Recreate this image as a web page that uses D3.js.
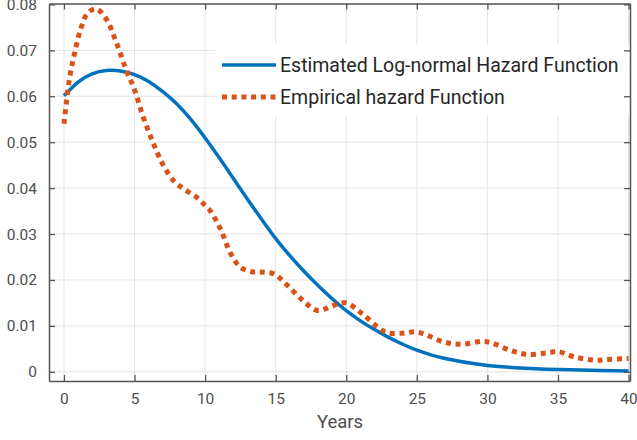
<html>
<head>
<meta charset="utf8">
<style>
body { margin: 0; background: #fff; }
text { font-family: Roboto, "Liberation Sans", sans-serif; }
</style>
</head>
<body>
<div id="canvas"></div>
<script src="https://cdn.jsdelivr.net/npm/d3@7"></script>
<script>

// log-normal fit (blue)
const fitYears = [0, 1, 2, 3, 4, 5, 6, 7, 8, 9, 10, 11, 12, 13, 14, 15, 16, 17, 18, 19, 20,
    21, 22, 23, 24, 25, 26, 27, 28, 29, 30, 32, 35, 38, 40];
const fitHazard = [0.0601, 0.0631, 0.0649, 0.0656, 0.0655, 0.0647, 0.0632, 0.0610, 0.0583, 0.0549, 0.0509,
    0.0466, 0.0421, 0.0376, 0.0332, 0.0290, 0.0253, 0.0219, 0.0188, 0.0159, 0.0133,
    0.0111, 0.0092, 0.0075, 0.0060, 0.0047, 0.0037, 0.0029, 0.0023, 0.0018, 0.0014, 0.0009, 0.0005, 0.0003, 0.0002];

// empirical hazard (orange, dotted)
const empYears = [0, 0.4, 0.8, 1.2, 1.7, 2.3, 3.0, 3.7, 4.4, 5.0, 5.6, 6.3, 7.0, 7.8, 8.5, 9.4, 10.0, 10.4,
    11.1, 11.8, 12.5, 13.3, 14.1, 14.9, 15.8, 16.9, 17.9, 18.6, 19.3, 20.0, 21.1, 22.2, 22.9, 24.0,
    24.9, 25.7, 26.9, 28.2, 29.6, 30.3, 31.6, 32.8, 34.2, 35.0, 36.1, 37.7, 38.5, 40.0];
const empHazard = [0.0540, 0.0640, 0.0700, 0.0748, 0.0782, 0.0790, 0.0768, 0.0718, 0.0658, 0.0614, 0.0556, 0.0500, 0.0452, 0.0415, 0.0398, 0.0380, 0.0362, 0.0349,
    0.0310, 0.0258, 0.0228, 0.0218, 0.0217, 0.0213, 0.0189, 0.0156, 0.0134, 0.0138, 0.0147, 0.0150, 0.0127, 0.0098, 0.0085, 0.0084,
    0.0087, 0.0080, 0.0065, 0.0060, 0.0066, 0.0063, 0.0047, 0.0038, 0.0041, 0.0044, 0.0033, 0.0025, 0.0027, 0.0029];

const xTicks = [0, 5, 10, 15, 20, 25, 30, 35, 40];
const yTicks = [0, 0.01, 0.02, 0.03, 0.04, 0.05, 0.06, 0.07, 0.08];
const seriesNames = ["Estimated Log-normal Hazard Function", "Empirical hazard Function"];

const W = 637, H = 440;
const L = 49, R = 630, T = 3.5, B = 381;
const blue = "#0072BD", orange = "#D95319";

const svg = d3.select("#canvas").append("svg")
    .attr("width", W)
    .attr("height", H)
    .attr("viewBox", `0 0 ${W} ${H}`);

const xScale = d3.scaleLinear().domain([-1.06, 40.1]).range([L, R]);
const yScale = d3.scaleLinear().domain([-0.002, 0.0802]).range([B, T]);

// grid
const grid = svg.append("g");
grid.selectAll(".gx").data(xTicks).join("line")
    .attr("x1", d => xScale(d)).attr("x2", d => xScale(d))
    .attr("y1", T).attr("y2", B)
    .attr("stroke", "#e3e3e3").attr("stroke-width", 1);
grid.selectAll(".gy").data(yTicks).join("line")
    .attr("x1", L).attr("x2", R)
    .attr("y1", d => yScale(d)).attr("y2", d => yScale(d))
    .attr("stroke", "#e3e3e3").attr("stroke-width", 1);

const plot = svg.append("g");

const fitLine = d3.line()
    .x(d => xScale(d[0]))
    .y(d => yScale(d[1]))
    .curve(d3.curveNatural);

const empLine = d3.line()
    .x(d => xScale(d[0]))
    .y(d => yScale(d[1]))
    .curve(d3.curveCatmullRom.alpha(0.5));

plot.append("path")
    .datum(fitYears.map((y, i) => [y, fitHazard[i]]))
    .attr("fill", "none")
    .attr("stroke", blue)
    .attr("stroke-width", 3.5)
    .attr("d", fitLine);

plot.append("path")
    .datum(empYears.map((y, i) => [y, empHazard[i]]))
    .attr("fill", "none")
    .attr("stroke", orange)
    .attr("stroke-width", 5)
    .attr("stroke-dasharray", "5,4.7")
    .attr("d", empLine);

// legend
const lg = svg.append("g");
lg.append("rect")
    .attr("x", 215).attr("y", 44)
    .attr("width", R - 215).attr("height", 72)
    .attr("fill", "#fff");
seriesNames.forEach((name, i) => {
    const yy = 65 + i * 32;
    lg.append("line")
        .attr("x1", 222).attr("x2", 276)
        .attr("y1", yy).attr("y2", yy)
        .attr("stroke", i === 0 ? blue : orange)
        .attr("stroke-width", i === 0 ? 3.5 : 5)
        .attr("stroke-dasharray", i === 0 ? null : "5,4.7");
    lg.append("text")
        .attr("x", 280).attr("y", yy)
        .attr("dy", "0.35em")
        .attr("font-size", "19.5px")
        .attr("fill", "#262626")
        .text(name);
});

// axes (box with inward ticks)
const axisColor = "#555";
const xAxis = svg.append("g")
    .attr("transform", `translate(0,${B})`)
    .call(d3.axisBottom(xScale).tickValues(xTicks).tickSize(-6).tickPadding(12).tickSizeOuter(0));
const yAxis = svg.append("g")
    .attr("transform", `translate(${L},0)`)
    .call(d3.axisLeft(yScale).tickValues(yTicks).tickFormat(d => d === 0 ? "0" : d3.format(".2f")(d)).tickSize(-6).tickPadding(12).tickSizeOuter(0));
const xTop = svg.append("g")
    .attr("transform", `translate(0,${T})`)
    .call(d3.axisTop(xScale).tickValues(xTicks).tickSize(-6).tickFormat("").tickSizeOuter(0));
const yRight = svg.append("g")
    .attr("transform", `translate(${R},0)`)
    .call(d3.axisRight(yScale).tickValues(yTicks).tickSize(-6).tickFormat("").tickSizeOuter(0));

[xAxis, yAxis, xTop, yRight].forEach(a => {
    a.select(".domain").attr("stroke", axisColor).attr("stroke-width", 1.5);
    a.selectAll(".tick line").attr("stroke", axisColor).attr("stroke-width", 1.3);
    a.selectAll("text").attr("font-size", "15.5px").attr("fill", "#4d4d4d")
        .attr("font-family", "Roboto, sans-serif");
});

svg.append("text")
    .attr("x", 340).attr("y", 422)
    .attr("dy", "0.35em")
    .attr("text-anchor", "middle")
    .attr("font-size", "18.5px")
    .attr("fill", "#4d4d4d")
    .text("Years");
</script>

</body>
</html>
